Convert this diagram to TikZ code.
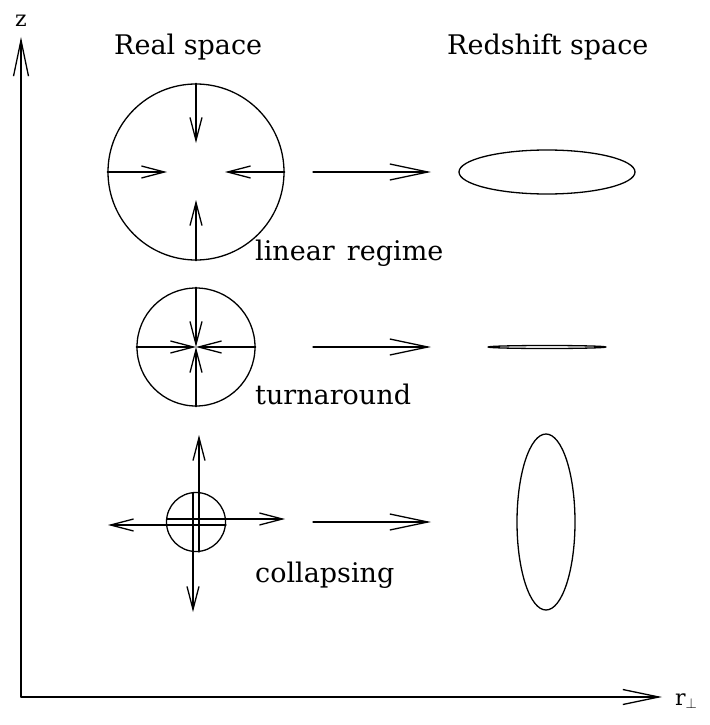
\documentclass[tikz,border=0pt]{standalone}
\usepackage{fontspec}
\setmainfont{DejaVu Serif}
\usetikzlibrary{arrows.meta,shapes.geometric}
\begin{document}
\begin{tikzpicture}[x=1pt,y=-1pt,
  ln/.style={line width=1.3pt,line cap=round,line join=round},
  inarr/.style={ln,-{Straight Barb[length=23pt,width=12pt,line width=1.3pt]}},
  maparr/.style={ln,-{Straight Barb[length=38pt,width=16pt,line width=1.3pt]}},
  axarr/.style={ln,-{Straight Barb[length=36pt,width=15pt,line width=1.3pt]}},
  blob/.style={ln,draw,circle,inner sep=0pt},
  zell/.style={ln,draw,ellipse,inner sep=0pt},
  lbl/.style={anchor=base west,inner sep=0pt,font=\fontsize{27}{30}\selectfont}
]
\useasboundingbox (0,0) rectangle (709,725);

% axes
\coordinate (O) at (21,697);
\coordinate (Ztip) at (21,37);
\coordinate (Rtip) at (662,697);
\draw[axarr] (O) -- (Ztip);
\draw[axarr] (O) -- (Rtip);
\node[lbl,anchor=base,font=\fontsize{22}{26}\selectfont] (zlab) at (21,27) {z};
\node[lbl,font=\fontsize{22}{26}\selectfont] (rlab) at (675,705) {r$_{\perp}$};

% headings
\node[lbl] (real) at (114,55) {Real space};
\node[lbl] (red) at (447,55) {Redshift space};

% ---- linear regime ----
\node[blob,minimum size=176pt] (C1) at (196,172) {};
\coordinate (C1l) at (167,172);
\coordinate (C1r) at (225,172);
\coordinate (C1t) at (196,143);
\coordinate (C1b) at (196,200);
\draw[inarr] (C1.west) -- (C1l);
\draw[inarr] (C1.east) -- (C1r);
\draw[inarr] (C1.north) -- (C1t);
\draw[inarr] (C1.south) -- (C1b);
\coordinate (M1a) at (313,172);
\coordinate (M1b) at (431,172);
\draw[maparr] (M1a) -- (M1b);
\node[zell,minimum width=176pt,minimum height=44pt] (E1) at (547,172) {};
\node[lbl] (t1) at (255,260) {linear\hspace{0.45em}regime};

% ---- turnaround ----
\node[blob,minimum size=118pt] (C2) at (196,347) {};
\coordinate (C2c) at (196,347);
\draw[inarr] (C2.west) -- (C2c);
\draw[inarr] (C2.east) -- (C2c);
\draw[inarr] (C2.north) -- (C2c);
\draw[inarr] (C2.south) -- (C2c);
\coordinate (M2a) at (313,347);
\coordinate (M2b) at (431,347);
\draw[maparr] (M2a) -- (M2b);
\node[zell,minimum width=118pt,minimum height=3pt] (E2) at (547,347) {};
\node[lbl] (t2) at (255,404) {turnaround};

% ---- collapsing ----
\node[blob,minimum size=59pt] (C3) at (196,522) {};
\coordinate (C3ls) at (167,519);
\coordinate (C3rt) at (285,519);
\coordinate (C3rs) at (226,525);
\coordinate (C3lt) at (108,525);
\coordinate (C3bs) at (199,552);
\coordinate (C3tt) at (199,435);
\coordinate (C3ts) at (193,493);
\coordinate (C3bt) at (193,612);
\draw[inarr] (C3ls) -- (C3rt);
\draw[inarr] (C3rs) -- (C3lt);
\draw[inarr] (C3bs) -- (C3tt);
\draw[inarr] (C3ts) -- (C3bt);
\coordinate (M3a) at (313,522);
\coordinate (M3b) at (431,522);
\draw[maparr] (M3a) -- (M3b);
\node[zell,minimum width=58pt,minimum height=176pt] (E3) at (546,522) {};
\node[lbl] (t3) at (255,582) {collapsing};
\end{tikzpicture}
\end{document}
